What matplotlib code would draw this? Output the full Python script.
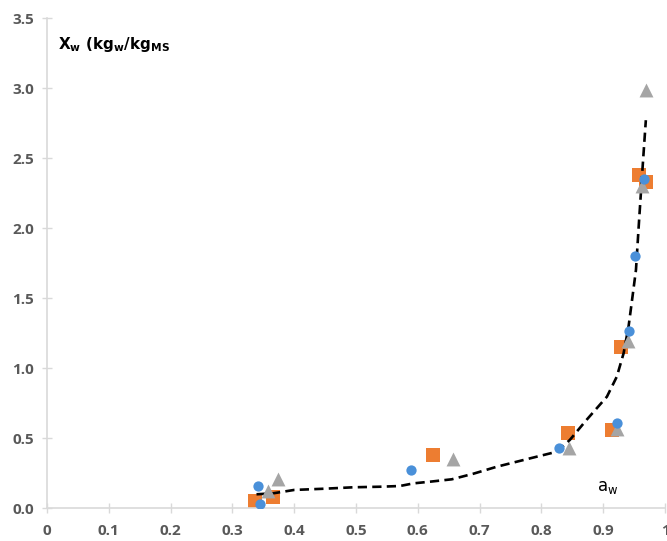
import matplotlib
matplotlib.use("Agg")
import matplotlib.pyplot as plt
from matplotlib.ticker import FixedLocator, FuncFormatter

# Sorption isotherm data: water activity vs. moisture content
aw_blue = [0.342, 0.344, 0.589, 0.829, 0.923, 0.941, 0.951, 0.966]
xw_blue = [0.157, 0.030, 0.271, 0.426, 0.610, 1.266, 1.800, 2.350]

aw_orange = [0.337, 0.366, 0.625, 0.843, 0.915, 0.928, 0.958, 0.969]
xw_orange = [0.050, 0.076, 0.376, 0.533, 0.557, 1.152, 2.379, 2.330]

aw_gray = [0.357, 0.374, 0.657, 0.845, 0.923, 0.940, 0.962, 0.969]
xw_gray = [0.124, 0.205, 0.348, 0.430, 0.562, 1.190, 2.300, 2.986]

# Fitted model curve
aw_fit = [0.339, 0.366, 0.400, 0.450, 0.496, 0.539, 0.571, 0.593, 0.620, 0.655,
          0.690, 0.728, 0.782, 0.825, 0.846, 0.873, 0.906, 0.922, 0.933, 0.941,
          0.946, 0.953, 0.958, 0.964, 0.969]
xw_fit = [0.098, 0.105, 0.129, 0.138, 0.148, 0.152, 0.157, 0.176, 0.188, 0.205,
          0.245, 0.295, 0.355, 0.402, 0.486, 0.629, 0.795, 0.938, 1.105, 1.295,
          1.462, 1.700, 2.050, 2.450, 2.770]

x_ticks = [0, 0.1, 0.2, 0.3, 0.4, 0.5, 0.6, 0.7, 0.8, 0.9, 1.0]
y_ticks = [0.0, 0.5, 1.0, 1.5, 2.0, 2.5, 3.0, 3.5]

W, H = 667, 541
fig = plt.figure(figsize=(W / 100, H / 100), dpi=100)
ax = fig.add_axes([47 / W, (H - 508) / H, (665 - 47) / W, (508 - 18) / H])

ax.scatter(aw_orange, xw_orange, marker="s", s=9.4 ** 2, color="#ED7D31",
           linewidths=0, zorder=2)
line, = ax.plot(aw_fit, xw_fit, color="black", lw=1.9, zorder=2.5)
line.set_dashes([3.5, 2.0])
ax.scatter(aw_gray, xw_gray, marker="^", s=10 ** 2, color="#A5A5A5",
           linewidths=0, zorder=3)
ax.scatter(aw_blue, xw_blue, marker="o", s=7.4 ** 2, color="#4A90D9",
           linewidths=0, zorder=4)

ax.set_xlim(0, 1.0)
ax.set_ylim(0, 3.5)
ax.xaxis.set_major_locator(FixedLocator(x_ticks))
ax.yaxis.set_major_locator(FixedLocator(y_ticks))
ax.xaxis.set_major_formatter(FuncFormatter(lambda v, p: "0" if v == 0 else ("1" if v == 1 else f"{v:.1f}")))
ax.yaxis.set_major_formatter(FuncFormatter(lambda v, p: f"{v:.1f}"))

for s in ["top", "right"]:
    ax.spines[s].set_visible(False)
for s in ["left", "bottom"]:
    ax.spines[s].set_color("#D9D9D9")
    ax.spines[s].set_linewidth(1.2)

ax.tick_params(axis="both", direction="inout", length=7, width=1.0,
               color="#D9D9D9", labelcolor="#595959", labelsize=11, pad=6)
for lab in ax.get_xticklabels() + ax.get_yticklabels():
    lab.set_fontweight("bold")
    lab.set_family("Open Sans")
ax.tick_params(axis="x", pad=8)

fig.text(58 / W, 1 - 44 / H, r"$\mathbf{X_{w}\ (kg_{w}/kg_{MS}}$",
         fontsize=11, ha="left", va="center", color="black")
fig.text(597 / W, 1 - 487 / H, r"$\mathrm{a_{w}}$",
         fontsize=12, ha="left", va="center", color="black")

fig.savefig("out.png", dpi=100)
